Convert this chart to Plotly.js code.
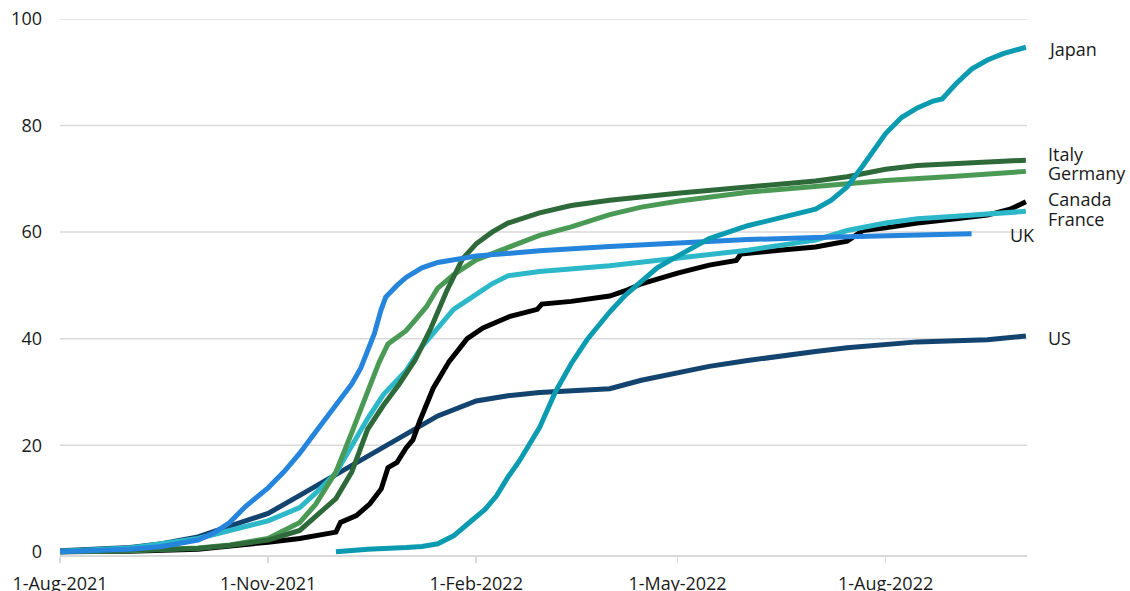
<!DOCTYPE html>
<html>
<head>
<meta charset="utf-8">
<script src="https://cdn.plot.ly/plotly-3.0.1.min.js"></script>
<style>
  html, body { margin: 0; padding: 0; background: #fff; }
  #chart { width: 1130px; height: 591px; }
</style>
</head>
<body>
<div id="chart"></div>
<script>
// ---- Data ----
var xTickVals = ['2021-08-01', '2021-11-01', '2022-02-01', '2022-05-01', '2022-08-01'];
var xTickText = ['1-Aug-2021', '1-Nov-2021', '1-Feb-2022', '1-May-2022', '1-Aug-2022'];
var yTickVals = [0, 20, 40, 60, 80, 100];
var gridVals = [20, 40, 60, 80, 100];

var usDates = ['2021-08-01','2021-08-15','2021-09-01','2021-09-15','2021-10-01','2021-10-15','2021-11-01','2021-11-15','2021-12-01','2021-12-15','2022-01-01','2022-01-15','2022-02-01','2022-02-15','2022-03-01','2022-03-15','2022-04-01','2022-04-15','2022-05-01','2022-05-15','2022-06-01','2022-06-15','2022-07-01','2022-07-15','2022-08-01','2022-08-15','2022-09-01','2022-09-15','2022-10-02'];
var usValues = [0.2,0.4,0.8,1.5,2.8,4.8,7.2,10.6,14.5,18,22,25.5,28.3,29.3,29.9,30.2,30.6,32.2,33.6,34.8,35.9,36.8,37.6,38.3,39,39.4,39.6,39.8,40.5];

var canadaDates = ['2021-08-01','2021-09-01','2021-10-01','2021-10-15','2021-11-01','2021-11-15','2021-12-01','2021-12-03','2021-12-10','2021-12-16','2021-12-21','2021-12-24','2021-12-28','2022-01-01','2022-01-04','2022-01-07','2022-01-13','2022-01-20','2022-01-28','2022-02-04','2022-02-16','2022-02-28','2022-03-02','2022-03-15','2022-04-01','2022-04-08','2022-04-15','2022-05-01','2022-05-15','2022-05-27','2022-05-29','2022-06-15','2022-07-01','2022-07-15','2022-07-22','2022-08-01','2022-08-15','2022-09-01','2022-09-15','2022-09-25','2022-10-02'];
var canadaValues = [0,0.1,0.5,1.0,1.8,2.5,3.7,5.5,6.8,9,11.8,15.8,16.8,19.5,21,24.5,30.7,35.7,40,42,44.2,45.5,46.5,47,48,49,50.3,52.3,53.8,54.7,55.9,56.6,57.2,58.3,60.3,60.8,61.7,62.5,63.2,64.3,65.7];

var franceDates = ['2021-08-01','2021-09-01','2021-09-15','2021-10-01','2021-10-15','2021-11-01','2021-11-15','2021-11-22','2021-12-01','2021-12-08','2021-12-15','2021-12-22','2022-01-01','2022-01-08','2022-01-15','2022-01-22','2022-02-01','2022-02-08','2022-02-15','2022-03-01','2022-04-01','2022-05-01','2022-06-01','2022-07-01','2022-07-15','2022-08-01','2022-08-15','2022-09-01','2022-10-02'];
var franceValues = [0.1,0.7,1.5,2.5,4,5.8,8.3,11,14.8,20,25,29.5,34,38.5,42,45.5,48.3,50.3,51.8,52.6,53.7,55.2,56.6,58.5,60.3,61.7,62.5,63,63.9];

var germanyDates = ['2021-08-01','2021-09-01','2021-10-01','2021-10-15','2021-11-01','2021-11-15','2021-11-22','2021-12-01','2021-12-08','2021-12-15','2021-12-20','2021-12-24','2021-12-28','2022-01-01','2022-01-05','2022-01-10','2022-01-15','2022-01-22','2022-02-01','2022-02-15','2022-03-01','2022-03-15','2022-04-01','2022-04-15','2022-05-01','2022-06-01','2022-07-01','2022-08-01','2022-09-01','2022-10-02'];
var germanyValues = [0,0.2,0.7,1.3,2.5,5.5,8.9,15,22.4,30,35.5,39,40.3,41.5,43.5,46,49.5,52,54.8,57.2,59.4,61,63.3,64.7,65.8,67.5,68.6,69.7,70.5,71.4];

var italyDates = ['2021-08-01','2021-09-01','2021-10-01','2021-10-15','2021-11-01','2021-11-15','2021-12-01','2021-12-08','2021-12-15','2021-12-22','2021-12-29','2022-01-05','2022-01-12','2022-01-19','2022-01-26','2022-02-01','2022-02-08','2022-02-15','2022-03-01','2022-03-15','2022-04-01','2022-05-01','2022-06-01','2022-07-01','2022-07-15','2022-08-01','2022-08-15','2022-09-01','2022-10-02'];
var italyValues = [0,0.2,0.6,1.2,2.2,4,10,15,23,27.5,31.5,36,42,49,55,57.8,60,61.7,63.6,65,66,67.3,68.5,69.6,70.4,71.8,72.5,72.9,73.5];

var ukDates = ['2021-08-01','2021-08-15','2021-09-01','2021-09-15','2021-10-01','2021-10-08','2021-10-15','2021-10-22','2021-11-01','2021-11-08','2021-11-15','2021-11-22','2021-12-01','2021-12-08','2021-12-12','2021-12-15','2021-12-18','2021-12-21','2021-12-23','2021-12-28','2022-01-01','2022-01-08','2022-01-15','2022-02-01','2022-03-01','2022-04-01','2022-05-01','2022-06-01','2022-07-01','2022-08-01','2022-09-08'];
var ukValues = [0,0.2,0.5,1.0,2.2,3.5,5.5,8.5,12,15,18.5,22.5,27.5,31.5,34.5,37.5,41,45.5,47.8,50,51.5,53.3,54.3,55.5,56.5,57.3,58,58.6,59,59.3,59.7];

var japanDates = ['2021-12-01','2021-12-15','2022-01-01','2022-01-08','2022-01-15','2022-01-22','2022-01-29','2022-02-05','2022-02-10','2022-02-15','2022-02-20','2022-02-25','2022-03-01','2022-03-08','2022-03-15','2022-03-22','2022-04-01','2022-04-08','2022-04-15','2022-04-22','2022-05-01','2022-05-15','2022-06-01','2022-06-15','2022-07-01','2022-07-08','2022-07-15','2022-07-22','2022-08-01','2022-08-08','2022-08-15','2022-08-22','2022-08-26','2022-09-01','2022-09-08','2022-09-15','2022-09-22','2022-10-02'];
var japanValues = [0,0.5,0.8,1.0,1.5,3,5.5,8,10.5,14,17,20.5,23.3,30,35.3,39.8,45,48.2,50.8,53.3,55.5,58.8,61.2,62.6,64.3,66,68.5,72.5,78.5,81.5,83.3,84.6,85,87.8,90.6,92.3,93.5,94.7];

var labelNames = ['Japan', 'Italy', 'Germany', 'Canada', 'France', 'UK', 'US'];
var labelValues = [94.4, 74.6, 71.1, 66.2, 62.4, 59.4, 40.1];

// ---- Styling ----
var FONT = '"Open Sans", "Noto Sans", sans-serif';
var TEXT = '#1a1a1a';
var GRID = '#d9d9d9';

function series(name, x, y, color) {
  return {
    type: 'scatter', mode: 'lines', name: name, x: x, y: y,
    line: { color: color, width: 5, shape: 'linear' },
    hoverinfo: 'skip'
  };
}

var traces = [
  series('US', usDates, usValues, '#13446f'),
  series('Canada', canadaDates, canadaValues, '#000000'),
  series('France', franceDates, franceValues, '#2cb8c9'),
  series('Germany', germanyDates, germanyValues, '#4a9a56'),
  series('Italy', italyDates, italyValues, '#2e693a'),
  series('UK', ukDates, ukValues, '#2584dc'),
  series('Japan', japanDates, japanValues, '#0a9bb1')
];

var shapes = gridVals.map(function (v) {
  return {
    type: 'line', xref: 'paper', yref: 'y', x0: 0, x1: 1, y0: v, y1: v,
    line: { color: GRID, width: 1.5 }, layer: 'below'
  };
});

var labelX = { 'UK': 0.9805 };
var annotations = labelNames.map(function (n, i) {
  return {
    text: n, xref: 'paper', yref: 'y',
    x: labelX[n] !== undefined ? labelX[n] : 1.0195,
    y: labelValues[i], xanchor: 'left', yanchor: 'middle',
    showarrow: false, font: { family: FONT, size: 18, color: TEXT }
  };
});

var layout = {
  width: 1130, height: 591,
  margin: { l: 60, r: 103, t: 19, b: 36, pad: 0 },
  paper_bgcolor: '#ffffff', plot_bgcolor: '#ffffff',
  showlegend: false,
  font: { family: FONT, size: 18, color: TEXT },
  xaxis: {
    type: 'date',
    range: ['2021-08-01', '2022-10-02 12:00'],
    tickvals: xTickVals, ticktext: xTickText,
    showgrid: false, zeroline: false,
    showline: true, linecolor: GRID, linewidth: 1.5,
    ticks: 'outside', ticklen: 6, tickcolor: GRID, tickwidth: 1.5,
    ticklabelstandoff: 6,
    tickfont: { family: FONT, size: 18, color: TEXT }
  },
  yaxis: {
    range: [-0.6, 100],
    tickvals: yTickVals,
    showgrid: false, zeroline: false, showline: false,
    ticks: '', ticklabelstandoff: 17,
    tickfont: { family: FONT, size: 18, color: TEXT }
  },
  shapes: shapes,
  annotations: annotations
};

Plotly.newPlot('chart', traces, layout, { displayModeBar: false, staticPlot: true });
</script>
</body>
</html>
